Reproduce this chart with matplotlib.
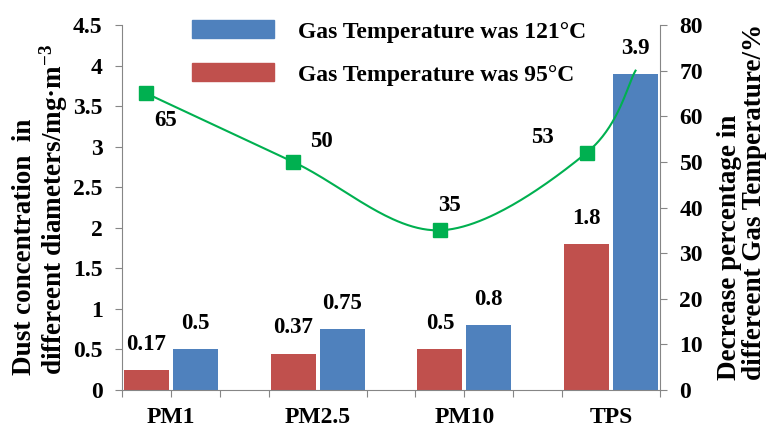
import matplotlib
matplotlib.use("Agg")
import matplotlib.pyplot as plt
import numpy as np
from matplotlib.patches import Patch

plt.rcParams['font.family'] = ['Liberation Serif', 'DejaVu Serif']
plt.rcParams['font.weight'] = 'bold'
plt.rcParams['mathtext.fontset'] = 'custom'
plt.rcParams['mathtext.rm'] = 'Liberation Serif:bold'
plt.rcParams['mathtext.default'] = 'rm'

categories = ['PM1', 'PM2.5', 'PM10', 'TPS']
conc_95 = [0.25, 0.45, 0.5, 1.8]
conc_121 = [0.5, 0.75, 0.8, 3.9]
labels_95 = ['0.17', '0.37', '0.5', '1.8']
labels_121 = ['0.5', '0.75', '0.8', '3.9']
decrease = [65, 50, 35, 52]
decrease_end = 70
decrease_labels = ['65', '50', '35', '53']

red = '#C0504D'
blue = '#4F81BD'
green = '#00B050'
axis_gray = '#868686'

# each category takes 3 slots: red, blue, empty
grp = np.arange(len(categories)) * 3
x_red = grp + 0.5
x_blue = grp + 1.5

fig = plt.figure(figsize=(7.71, 4.26), dpi=100)
ax = fig.add_axes([122 / 771, 36 / 426, 538 / 771, 365 / 426])
ax2 = ax.twinx()

ax.bar(x_red, conc_95, width=0.92, color=red, edgecolor='none')
ax.bar(x_blue, conc_121, width=0.92, color=blue, edgecolor='none')
ax.set_xlim(0, 11)
ax.set_ylim(0, 4.5)
ax.set_yticks(np.arange(0, 4.6, 0.5))
ax.set_yticklabels(['0', '0.5', '1', '1.5', '2', '2.5', '3', '3.5', '4', '4.5'])

for xs, vals, labs in [(x_red, conc_95, labels_95), (x_blue, conc_121, labels_121)]:
    for xv, v, lab in zip(xs, vals, labs):
        ax.annotate(lab, (xv, v), xytext=(0, 14.5), textcoords='offset points',
                    ha='center', va='baseline', fontsize=16.5, fontweight='bold')

# smoothed line (Catmull-Rom through the points, like Excel smoothing)
lx = np.append(x_red, x_blue[-1])
ly = np.append(decrease, decrease_end)
P = np.column_stack([lx, ly]).astype(float)
P = np.vstack([P[0], P, P[-1]])
curve = []
t = np.linspace(0, 1, 60)[:, None]
for i in range(1, len(P) - 2):
    p0, p1, p2, p3 = P[i - 1], P[i], P[i + 1], P[i + 2]
    c1 = p1 + (p2 - p0) / 6
    c2 = p2 - (p3 - p1) / 6
    seg = ((1 - t) ** 3) * p1 + 3 * ((1 - t) ** 2) * t * c1 + 3 * (1 - t) * t ** 2 * c2 + t ** 3 * p2
    curve.append(seg)
curve = np.vstack(curve)
ax2.plot(curve[:, 0], curve[:, 1], color=green, lw=1.5)
ax2.plot(x_red, decrease, ls='none', marker='s', ms=10.5, color=green)
ax2.set_ylim(0, 80)
ax2.set_yticks(np.arange(0, 81, 10))

lab_offsets = [(13.7, -23.8), (20, 10.8), (7.2, 13.7), (-31.7, 7.2)]
for xv, v, lab, off in zip(x_red, decrease, decrease_labels, lab_offsets):
    ax2.annotate(lab, (xv, v), xytext=off, textcoords='offset points',
                 ha='center', va='baseline', fontsize=16.5, fontweight='bold')

# axes styling
for a in (ax, ax2):
    a.spines['top'].set_visible(False)
    for s in a.spines.values():
        s.set_color(axis_gray)
ax.spines['right'].set_visible(False)
ax2.spines['left'].set_visible(False)
ax2.spines['bottom'].set_visible(False)

ax.tick_params(axis='y', length=5, color=axis_gray, labelsize=17, pad=9)
ax2.tick_params(axis='y', length=5, color=axis_gray, labelsize=17, pad=9)
ax.set_xticks([0, 1, 2, 3, 5, 6, 7, 8, 9, 11])
ax.set_xticklabels([])
ax.tick_params(axis='x', length=5, color=axis_gray)
for xv, c in zip(grp + 1, categories):
    ax.text(xv, -0.333, c, ha='center', va='center', fontsize=17, fontweight='bold')

fig.text(41 / 771, 1 - 375 / 426, 'Dust concentration  in\ndiffereent diameters/mg·m$^{-3}$',
         rotation=90, ha='center', va='bottom', multialignment='left',
         fontsize=19.5, fontweight='bold', linespacing=1.05)
fig.text(742 / 771, 1 - 380 / 426, 'Decrease percentage in\ndiffereent Gas Temperature/%',
         rotation=90, ha='center', va='bottom', multialignment='left',
         fontsize=19.5, fontweight='bold', linespacing=1.05)

handles = [Patch(color=blue), Patch(color=red)]
leg = ax.legend(handles, ['Gas Temperature was 121\u00b0C', 'Gas Temperature was 95\u00b0C'],
                loc='upper left', bbox_to_anchor=(0.09, 1.071), frameon=False,
                handlelength=3.5, handleheight=0.8, handletextpad=1.0,
                labelspacing=0.88, prop={'size': 17, 'weight': 'bold'})

fig.savefig('out.png', dpi=100)
